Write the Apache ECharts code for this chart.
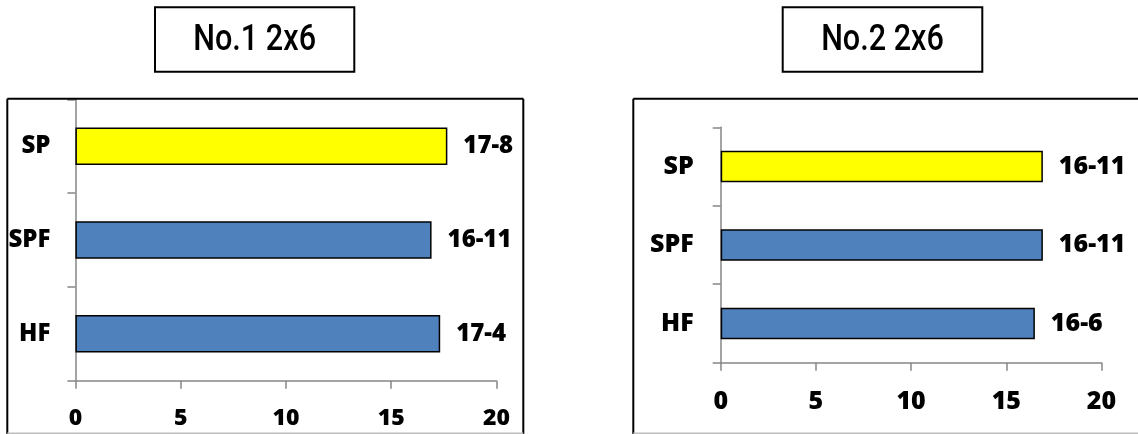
<!DOCTYPE html>
<html>
<head>
<meta charset="utf-8">
<script src="https://cdn.jsdelivr.net/npm/echarts@6/dist/echarts.min.js"></script>
<style>
  html, body { margin: 0; padding: 0; background: #fff; }
  #chart { width: 1138px; height: 434px; }
</style>
</head>
<body>
<div id="chart"></div>
<script>
// ---- data (feet-inches converted to feet) ----
const categories = ['HF', 'SPF', 'SP'];
const chart1Title = 'No.1 2x6';
const chart1Values = [17.33, 16.92, 17.67];
const chart1Labels = ['17-4', '16-11', '17-8'];
const chart2Title = 'No.2 2x6';
const chart2Values = [16.5, 16.92, 16.92];
const chart2Labels = ['16-6', '16-11', '16-11'];
const xMin = 0, xMax = 20, xInterval = 5;

const BLUE = '#4F81BD';
const YELLOW = '#FFFF00';
const AXIS_GRAY = '#868686';
const FONT = 'Open Sans';
const WEIGHT = 800;

function barData(values) {
  return values.map((v, i) => ({
    value: v,
    itemStyle: { color: categories[i] === 'SP' ? YELLOW : BLUE }
  }));
}

function xAxisCfg(gridIndex, fontSize, margin) {
  return {
    type: 'value', gridIndex, min: xMin, max: xMax, interval: xInterval,
    splitLine: { show: false },
    axisLine: { show: true, lineStyle: { color: AXIS_GRAY, width: 1.5 } },
    axisTick: { show: true, length: 8, lineStyle: { color: AXIS_GRAY, width: 1.5 } },
    axisLabel: { color: '#000', fontWeight: WEIGHT, fontSize, fontFamily: FONT, margin }
  };
}
function yAxisCfg(gridIndex, fontSize, margin) {
  return {
    type: 'category', gridIndex, data: categories, boundaryGap: true,
    axisLine: { show: true, lineStyle: { color: AXIS_GRAY, width: 1.5 } },
    axisTick: { show: true, length: 8, lineStyle: { color: AXIS_GRAY, width: 1.5 } },
    axisLabel: { color: '#000', fontWeight: WEIGHT, fontSize, fontFamily: FONT, margin }
  };
}
function barSeries(idx, values, labels, fontSize) {
  return {
    type: 'bar', xAxisIndex: idx, yAxisIndex: idx,
    data: barData(values), barWidth: '40%',
    itemStyle: { borderColor: '#000', borderWidth: 1.5 },
    label: {
      show: true, position: 'right', distance: 16,
      formatter: p => labels[p.dataIndex],
      color: '#000', fontWeight: WEIGHT, fontSize, fontFamily: FONT
    },
    animation: false
  };
}
function titleBox(x, y, w, h, text) {
  return [
    { type: 'rect', z: 100, shape: { x, y, width: w, height: h },
      style: { fill: '#fff', stroke: '#000', lineWidth: 2 } },
    { type: 'text', z: 101, x: x + w / 2, y: y + h / 2 + 1, scaleX: 0.85,
      style: { text, fill: '#000', fontSize: 36, fontFamily: 'Roboto', fontWeight: 500,
               align: 'center', verticalAlign: 'middle',
               textAlign: 'center', textVerticalAlign: 'middle' } }
  ];
}
function line(x1, y1, x2, y2, color, w) {
  return { type: 'line', z: 100, shape: { x1, y1, x2, y2 },
           style: { stroke: color, lineWidth: w } };
}

const chart = echarts.init(document.getElementById('chart'));
chart.setOption({
  animation: false,
  grid: [
    { left: 75.4, top: 99.3, width: 421, height: 281.4 },
    { left: 720.7, top: 127.3, width: 380.8, height: 235.4 }
  ],
  xAxis: [xAxisCfg(0, 23, 26), xAxisCfg(1, 25, 27)],
  yAxis: [yAxisCfg(0, 24, 25), yAxisCfg(1, 25, 27)],
  series: [
    barSeries(0, chart1Values, chart1Labels, 24),
    barSeries(1, chart2Values, chart2Labels, 25)
  ],
  graphic: [
    ...titleBox(155, 7.3, 199.3, 64.4, chart1Title),
    ...titleBox(782.7, 7.3, 199.6, 64.4, chart2Title),
    // left chart frame
    line(7.3, 98.7, 523.3, 98.7, '#000', 2),
    line(7.3, 98.7, 7.3, 434, '#000', 2),
    line(523.3, 98.7, 523.3, 434, '#000', 2),
    line(7.3, 433.3, 523.3, 433.3, '#bdbdbd', 1.5),
    // right chart frame
    line(633.3, 98.7, 1138, 98.7, '#000', 2),
    line(633.3, 98.7, 633.3, 434, '#000', 2),
    line(633.3, 433.3, 1138, 433.3, '#bdbdbd', 1.5)
  ]
});
</script>
</body>
</html>
